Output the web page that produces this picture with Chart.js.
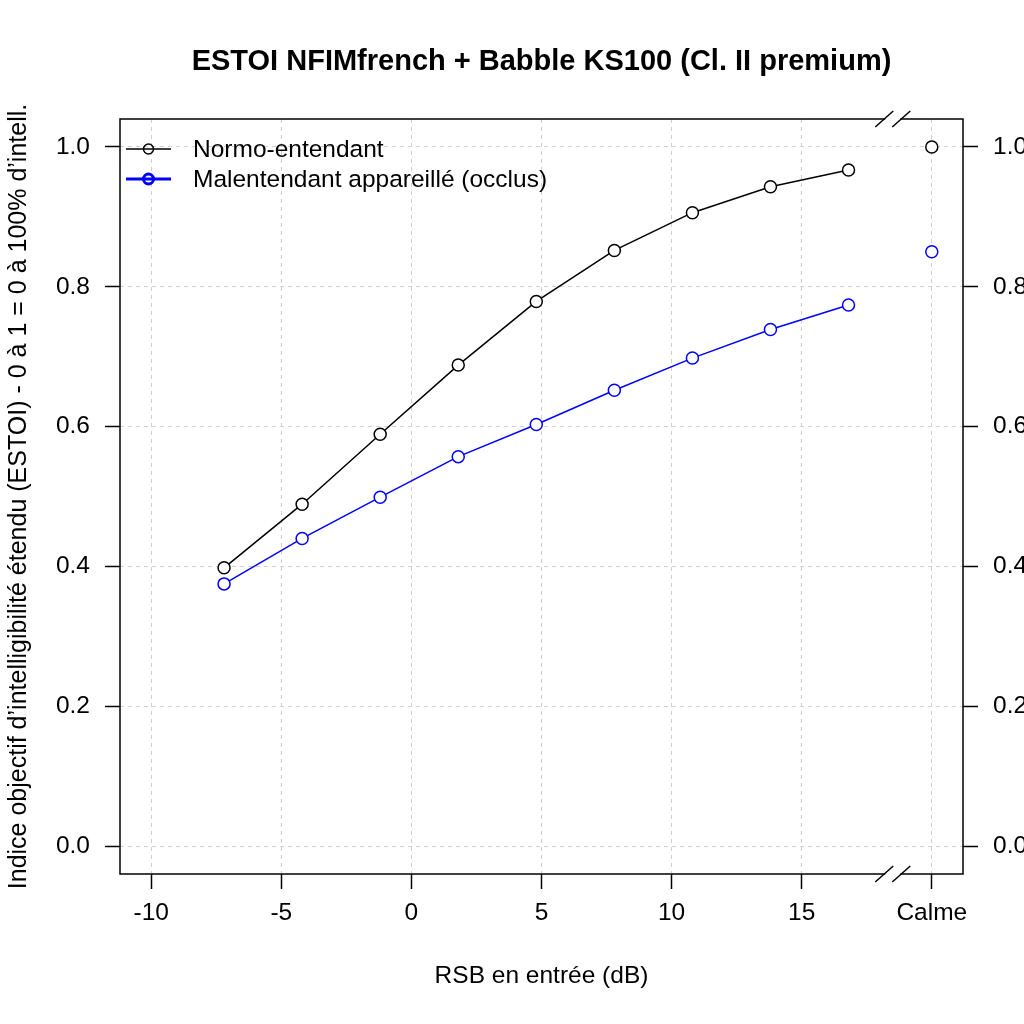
<!DOCTYPE html>
<html>
<head>
<meta charset="utf-8">
<script src="https://cdn.jsdelivr.net/npm/chart.js@4.4.1/dist/chart.umd.min.js"></script>
<style>
  html, body { margin: 0; padding: 0; background: #fff; }
  #wrap { width: 1024px; height: 1024px; }
</style>
</head>
<body>
<div id="wrap"><canvas id="chart" width="1024" height="1024"></canvas></div>
<script>
// ===== Données =====
const rsb = [-7.2, -4.2, -1.2, 1.8, 4.8, 7.8, 10.8, 13.8, 16.8];   // RSB en entrée (dB)
const calmeX = 20;        // position de "Calme" sur l'axe
const breakX = 18.5;      // position de la coupure d'axe
const normo = [0.398, 0.489, 0.589, 0.688, 0.779, 0.852, 0.906, 0.943, 0.967];
const normoCalme = 1.0;
const malent = [0.375, 0.440, 0.499, 0.557, 0.603, 0.652, 0.698, 0.739, 0.774];
const malentCalme = 0.85;
const xTicks = [-10, -5, 0, 5, 10, 15, 20];
const yTicks = [0, 0.2, 0.4, 0.6, 0.8, 1.0];
const seriesNames = ['Normo-entendant', 'Malentendant appareillé (occlus)'];

const FONT = 'Liberation Sans, Arial, Helvetica, sans-serif';
const GRID = '#d0d0d0';
const FS = 24.5;   // taille de police des axes

// points + coupure (null) + point "Calme"
function buildPoints(values, calme) {
    const pts = rsb.map((x, i) => ({ x: x, y: values[i] }));
    pts.push({ x: breakX, y: null });
    pts.push({ x: calmeX, y: calme });
    return pts;
}

function yAxis(position, width, withGrid) {
    return {
        type: 'linear',
        position: position,
        min: -0.04,
        max: 1.04,
        afterBuildTicks: s => { s.ticks = yTicks.map(v => ({ value: v })); },
        afterFit: s => { s.width = width; },
        ticks: {
            callback: v => v.toFixed(1),
            font: { family: FONT, size: FS },
            color: '#000',
            padding: 15,
            autoSkip: false
        },
        grid: {
            drawOnChartArea: withGrid,
            color: GRID,
            lineWidth: 1,
            tickLength: 15,
            tickColor: '#000',
            tickWidth: 1.5,
            tickBorderDash: []
        },
        border: { display: false, dash: [4, 4] }
    };
}

// ===== Plugin : cadre, coupures d'axe, légende, titre =====
const decorPlugin = {
    id: 'decor',
    afterDraw(chart) {
        const ctx = chart.ctx;
        const a = chart.chartArea;
        const xs = chart.scales.x;

        ctx.save();
        // cadre
        ctx.setLineDash([]);
        ctx.strokeStyle = '#000';
        ctx.lineWidth = 1.5;
        ctx.strokeRect(a.left, a.top, a.right - a.left, a.bottom - a.top);

        // coupures "//"
        const cx = xs.getPixelForValue(breakX);
        [a.top, a.bottom].forEach(y => {
            ctx.fillStyle = '#fff';
            ctx.fillRect(cx - 7.5, y - 3, 15, 6);
            ctx.strokeStyle = '#000';
            ctx.lineWidth = 1.5;
            [-8.5, 8.5].forEach(off => {
                ctx.beginPath();
                ctx.moveTo(cx + off - 9, y + 8);
                ctx.lineTo(cx + off + 9, y - 8);
                ctx.stroke();
            });
        });

        // légende
        const legend = [
            { color: '#000', width: 1.5, r: 5, y: 149 },
            { color: '#0000ff', width: 3, r: 5, y: 179 }
        ];
        legend.forEach((it, i) => {
            ctx.strokeStyle = it.color;
            ctx.lineWidth = it.width;
            ctx.beginPath();
            ctx.moveTo(126, it.y);
            ctx.lineTo(171, it.y);
            ctx.stroke();
            ctx.beginPath();
            ctx.arc(148.5, it.y, it.r, 0, Math.PI * 2);
            ctx.stroke();
            ctx.fillStyle = '#000';
            ctx.font = FS + 'px ' + FONT;
            ctx.textAlign = 'left';
            ctx.textBaseline = 'middle';
            ctx.fillText(seriesNames[i], 193, it.y + 1);
        });

        // titre
        ctx.fillStyle = '#000';
        ctx.font = 'bold 29px ' + FONT;
        ctx.textAlign = 'center';
        ctx.textBaseline = 'middle';
        ctx.fillText('ESTOI NFIMfrench + Babble KS100 (Cl. II premium)', (a.left + a.right) / 2, 62);
        ctx.restore();
    }
};

// ===== Graphique =====
const ctx = document.getElementById('chart').getContext('2d');
const chart = new Chart(ctx, {
    type: 'line',
    data: {
        datasets: [
            {
                label: seriesNames[0],
                data: buildPoints(normo, normoCalme),
                borderColor: '#000',
                borderWidth: 1.5,
                pointRadius: 6,
                pointBorderWidth: 1.5,
                pointBackgroundColor: '#fff',
                pointBorderColor: '#000',
                tension: 0,
                spanGaps: false,
                yAxisID: 'y'
            },
            {
                label: seriesNames[1],
                data: buildPoints(malent, malentCalme),
                borderColor: '#0000ff',
                borderWidth: 1.5,
                pointRadius: 6,
                pointBorderWidth: 1.5,
                pointBackgroundColor: '#fff',
                pointBorderColor: '#0000ff',
                tension: 0,
                spanGaps: false,
                yAxisID: 'y'
            }
        ]
    },
    options: {
        responsive: false,
        animation: false,
        devicePixelRatio: 1,
        layout: { padding: { top: 119, left: 0, right: 0, bottom: 0 } },
        plugins: {
            legend: { display: false },
            title: { display: false },
            tooltip: { enabled: false }
        },
        scales: {
            x: {
                type: 'linear',
                min: -11.2,
                max: 21.2,
                afterBuildTicks: s => { s.ticks = xTicks.map(v => ({ value: v })); },
                afterFit: s => { s.height = 150; },
                ticks: {
                    callback: v => v === calmeX ? 'Calme' : String(v),
                    font: { family: FONT, size: FS },
                    color: '#000',
                    padding: 10,
                    maxRotation: 0,
                    autoSkip: false
                },
                grid: {
                    color: GRID,
                    lineWidth: 1,
                    tickLength: 15,
                    tickColor: '#000',
                    tickWidth: 1.5,
                    tickBorderDash: []
                },
                border: { display: false, dash: [4, 4] },
                title: {
                    display: true,
                    text: 'RSB en entrée (dB)',
                    font: { family: FONT, size: FS },
                    color: '#000',
                    padding: { top: 0, bottom: 33 }
                }
            },
            y: Object.assign(yAxis('left', 120, true), {
                title: {
                    display: true,
                    text: 'Indice objectif d’intelligibilité étendu (ESTOI) - 0 à 1 = 0 à 100% d’intell.',
                    font: { family: FONT, size: 25 },
                    color: '#000',
                    padding: { top: 4, bottom: 0 }
                }
            }),
            y2: yAxis('right', 61, false)
        }
    },
    plugins: [decorPlugin]
});
</script>
</body>
</html>
